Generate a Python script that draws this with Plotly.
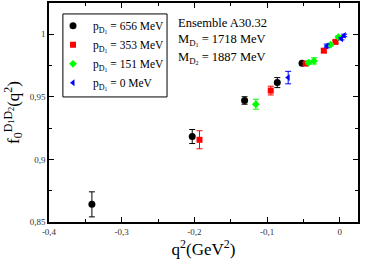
import plotly.graph_objects as go

q2_656 = [-0.341, -0.203, -0.131, -0.086, -0.052]
f_656 = [0.8641, 0.9183, 0.9471, 0.9614, 0.9768]
e_656 = [0.0100, 0.0056, 0.0030, 0.0040, 0.0010]

q2_353 = [-0.193, -0.095, -0.047, -0.022, -0.006]
f_353 = [0.9157, 0.9550, 0.9766, 0.9869, 0.9939]
e_353 = [0.0072, 0.0035, 0.0012, 0.0015, 0.0012]

q2_151 = [-0.1155, -0.043, -0.0356, -0.0128, -0.002]
f_151 = [0.9441, 0.9774, 0.9787, 0.9917, 0.9978]
e_151 = [0.0040, 0.0012, 0.0025, 0.0010, 0.0010]

q2_0 = [-0.071, -0.018, 0.0023, 0.006]
f_0 = [0.9654, 0.9907, 0.9965, 0.9991]
e_0 = [0.0050, 0.0015, 0.0010, 0.0010]

labels = ["p<sub>D<sub>1</sub></sub> = 656 MeV", "p<sub>D<sub>1</sub></sub> = 353 MeV",
          "p<sub>D<sub>1</sub></sub> = 151 MeV", "p<sub>D<sub>1</sub></sub> = 0 MeV"]
colors = ["#000000", "#ff0000", "#00ff00", "#0000ff"]
symbols = ["circle", "square", "diamond", "triangle-left"]
sizes = [7, 6, 6, 6]

fig = go.Figure()
for x, y, e, lab, c, s, sz in zip([q2_656, q2_353, q2_151, q2_0], [f_656, f_353, f_151, f_0],
                                   [e_656, e_353, e_151, e_0], labels, colors, symbols, sizes):
    fig.add_trace(go.Scatter(x=x, y=y, mode="markers", name=lab,
                             marker=dict(color=c, symbol=s, size=sz, line=dict(width=0)),
                             error_y=dict(type="data", array=e, color=c, thickness=1, width=3)))

serif = "Liberation Serif, Times New Roman, serif"
axis_common = dict(showline=True, linecolor="black", linewidth=1.5, mirror="ticks",
                   ticks="inside", ticklen=5, tickcolor="black", tickwidth=1,
                   showgrid=False, zeroline=False, automargin=False,
                   tickfont=dict(family=serif, size=9, color="#333"),
                   minor=dict(ticks="inside", ticklen=3, tickcolor="black", showgrid=False))

fig.update_xaxes(range=[-0.4, 0.025], tickvals=[-0.4, -0.3, -0.2, -0.1, 0],
                 ticktext=["-0,4", "-0,3", "-0,2", "-0,1", "0"],
                 title=dict(text="q<sup>2</sup>(GeV<sup>2</sup>)", font=dict(family=serif, size=17, color="black"), standoff=4),
                 **axis_common)
fig.update_xaxes(minor=dict(dtick=0.05, tick0=0))
fig.update_yaxes(range=[0.85, 1.025], tickvals=[0.85, 0.9, 0.95, 1.0],
                 ticktext=["0,85", "0,9", "0,95", "1"],
                 title=dict(text="f<sub>0</sub><sup>D<sub>1</sub>D<sub>2</sub></sup>(q<sup>2</sup>)",
                            font=dict(family=serif, size=17, color="black"), standoff=6),
                 **axis_common)
fig.update_yaxes(minor=dict(dtick=0.025, tick0=0))

ann_font = dict(family=serif, size=12.5, color="black")
fig.add_annotation(x=0.41, y=0.909, xref="paper", yref="paper", xanchor="left", yanchor="middle",
                   text="Ensemble A30.32", showarrow=False, font=ann_font)
fig.add_annotation(x=0.41, y=0.831, xref="paper", yref="paper", xanchor="left", yanchor="middle",
                   text="M<sub>D<sub>1</sub></sub> = 1718 MeV", showarrow=False, font=ann_font)
fig.add_annotation(x=0.41, y=0.749, xref="paper", yref="paper", xanchor="left", yanchor="middle",
                   text="M<sub>D<sub>2</sub></sub> = 1887 MeV", showarrow=False, font=ann_font)

# legend frame
fig.add_shape(type="rect", xref="paper", yref="paper", x0=0.045, x1=0.382, y0=0.571, y1=0.95,
              line=dict(color="black", width=1), fillcolor="rgba(0,0,0,0)", layer="above")

fig.update_layout(width=365, height=261, margin=dict(l=49, r=7, t=3, b=39),
                  plot_bgcolor="white", paper_bgcolor="white", showlegend=True,
                  legend=dict(x=0.013, y=0.962, xanchor="left", yanchor="top",
                              borderwidth=0, bgcolor="rgba(0,0,0,0)",
                              font=dict(family=serif, size=11.5, color="black"),
                              tracegroupgap=0, itemwidth=30))

fig.write_html("out.html", config={"displayModeBar": False},
               post_script="document.body.style.margin='0';")
